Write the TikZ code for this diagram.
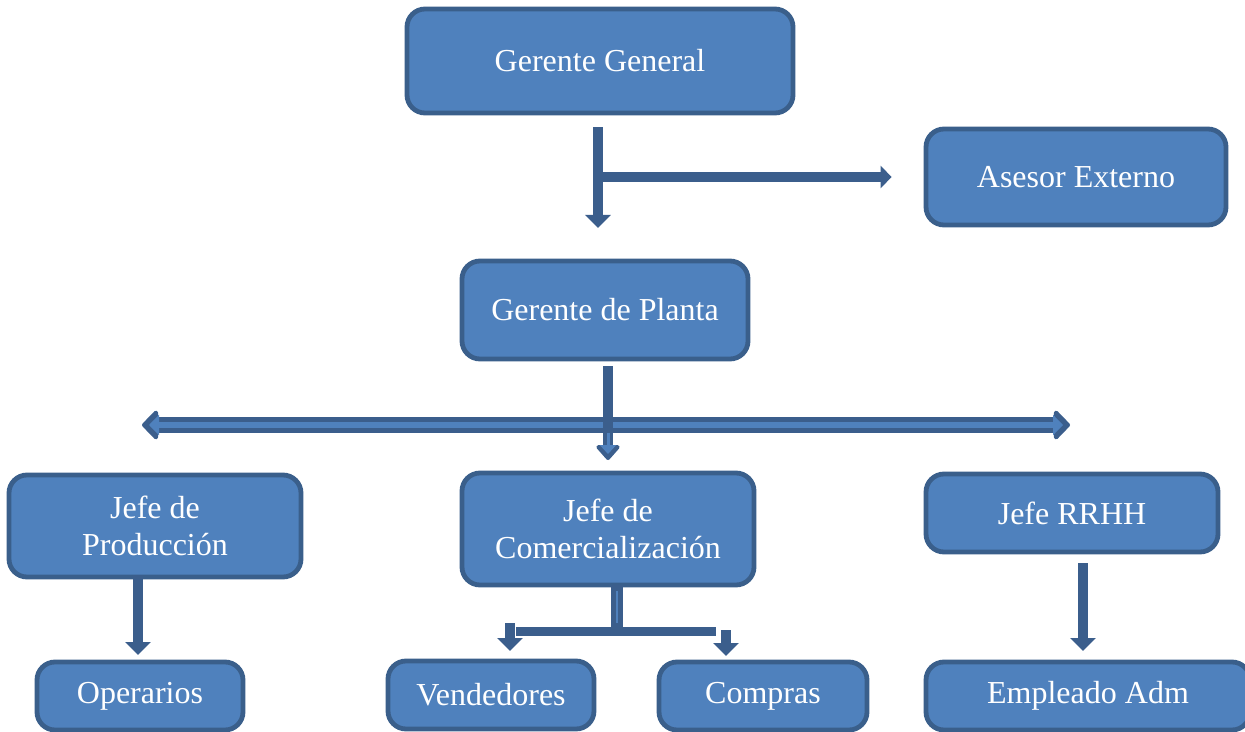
\documentclass[tikz,border=0pt]{standalone}
\usepackage{fontspec}
\setmainfont{Liberation Serif}
\usepackage{tikz}
\usetikzlibrary{arrows.meta,calc}

\definecolor{cajaazul}{HTML}{4F81BD}
\definecolor{bordeazul}{HTML}{3A5F8B}
\definecolor{flechaazul}{HTML}{3B5E8C}

\tikzset{
	caja/.style={draw=bordeazul, fill=cajaazul, line width=2.4pt, rounded corners=9pt,
		text=white, align=center, inner sep=0pt, font=\fontsize{16}{18.5}\selectfont},
	flecha/.style={draw=flechaazul, line width=5pt, -{Triangle[length=6.5pt,width=12.5pt]}},
	barra/.style={draw=flechaazul, line width=4.5pt},
	doblefondo/.style={draw=flechaazul, line width=8pt,
		{Triangle[round,length=8.5pt,width=17pt]}-{Triangle[round,length=8.5pt,width=17pt]}},
	doblecentro/.style={draw=cajaazul, line width=3pt, shorten <=3.5pt, shorten >=3.5pt,
		{Triangle[length=5pt,width=10pt]}-{Triangle[length=5pt,width=10pt]}}
}

\begin{document}
\begin{tikzpicture}[x=0.5pt,y=-0.5pt]
	\useasboundingbox[fill=white] (0,0) rectangle (1245,732);

	% cajas
	\node[caja, minimum width=193pt, minimum height=52pt] (gg) at (600,61) {Gerente General};
	\node[caja, minimum width=150pt, minimum height=48pt] (ae) at (1076,177) {Asesor Externo};
	\node[caja, minimum width=143pt, minimum height=49pt] (gp) at (605,310) {Gerente de Planta};
	\node[caja, minimum width=146pt, minimum height=51pt] (jp) at (155,526) {Jefe de\\Producción};
	\node[caja, minimum width=146pt, minimum height=56pt] (jc) at (608,529) {Jefe de\\Comercialización};
	\node[caja, minimum width=146pt, minimum height=39pt] (jr) at (1072,513) {Jefe RRHH};
	\node[caja, minimum width=103pt, minimum height=34pt] (op) at (140,696) {Operarios};
	\node[caja, minimum width=103pt, minimum height=34pt] (ve) at (491,695) {Vendedores};
	\node[caja, minimum width=104pt, minimum height=34pt] (co) at (763,696) {Compras};
	\node[caja, minimum width=162pt, minimum height=34pt] (ea) at (1088,696) {Empleado Adm};

	% puntos de las flechas
	\coordinate (gg1) at ($(gg.south)+(-2,12)$);
	\coordinate (gg2) at (598,228);
	\coordinate (ggr) at (598,177);
	\coordinate (ae1) at ($(ae.west)+(-32,0)$);
	\coordinate (gp1) at ($(gp.south)+(3,5)$);
	\coordinate (gp2) at (608,460);
	\coordinate (gpm) at (608,433);
	\coordinate (izq) at (142,425);
	\coordinate (der) at (1070,425);
	\coordinate (jp1) at (138,575);
	\coordinate (jp2) at (138,655);
	\coordinate (jc1) at ($(jc.south)+(9,-2)$);
	\coordinate (jc2) at (617,631);
	\coordinate (bi) at (516,631);
	\coordinate (bd) at (716,631);
	\coordinate (ve1) at (510,623);
	\coordinate (ve2) at (510,651);
	\coordinate (co1) at (726,630);
	\coordinate (co2) at (726,656);
	\coordinate (jr1) at (1083,563);
	\coordinate (jr2) at (1083,651);

	% flechas
	\draw[flecha] (gg1) -- (gg2);
	\draw[flecha, -{Triangle[length=5.5pt,width=11pt]}] (ggr) -- (ae1);

	\draw[doblefondo] (izq) -- (der);
	\draw[doblecentro] (izq) -- (der);
	\draw[flecha, -{Triangle[round,length=8pt,width=13.5pt]}] (gp1) -- (gp2);
	\draw[draw=cajaazul, line width=1.5pt, shorten >=3pt,
		-{Triangle[length=4.5pt,width=8pt]}] (gpm) -- (gp2);

	\draw[flecha] (jp1) -- (jp2);

	\draw[draw=flechaazul, line width=6pt] (jc1) -- (jc2);
	\draw[draw=cajaazul, line width=0.8pt] ($(jc1)+(0,6)$) -- ($(jc2)+(0,-8)$);
	\draw[barra] (bi) -- (bd);
	\draw[flecha] (ve1) -- (ve2);
	\draw[flecha] (co1) -- (co2);

	\draw[flecha] (jr1) -- (jr2);
\end{tikzpicture}
\end{document}
